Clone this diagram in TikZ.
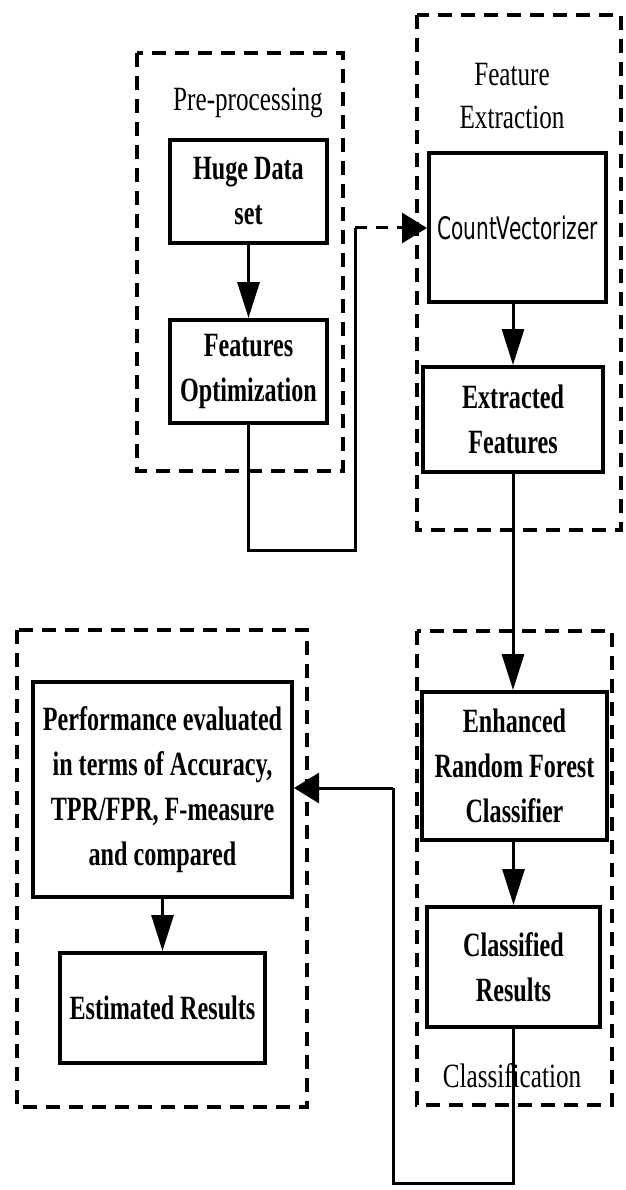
\documentclass[tikz,border=0pt]{standalone}
\usepackage{fontspec}
\setmainfont{Liberation Serif}
\newfontfamily\boxfont[FakeStretch=0.71]{Liberation Serif}
\newfontfamily\labelfont[FakeStretch=0.74]{Liberation Serif}
\newfontfamily\cvfont[FakeStretch=0.65]{DejaVu Sans}
\usetikzlibrary{arrows.meta}
\tikzset{
  dashbox/.style={draw, line width=4pt, dash pattern=on 14pt off 9pt},
  procbox/.style={draw, line width=4pt, inner sep=0pt, align=center,
    font=\boxfont\bfseries\fontsize{34}{45}\selectfont},
  grouplabel/.style={inner sep=0pt, align=center,
    font=\labelfont\fontsize{34}{43}\selectfont},
  conn/.style={line width=3pt, -{Triangle[length=36pt,width=22pt]}},
  hconn/.style={line width=3pt, -{Triangle[length=25pt,width=30pt]}},
  plainline/.style={line width=3pt},
}
\begin{document}
\begin{tikzpicture}[x=1pt,y=-1pt]
\useasboundingbox[fill=white] (0,0) rectangle (625,1190);
% dashed group frames
\draw[dashbox] (137,53) rectangle (343,471);
\draw[dashbox] (417,15) rectangle (621,530);
\draw[dashbox] (417,631) rectangle (612,1105);
\draw[dashbox] (17,630) rectangle (307,1107);
% group labels
\node[grouplabel] (lpre) at (248,103) {Pre-processing};
\node[grouplabel] (lfe) at (512,96.5) {Feature\\Extraction};
\node[grouplabel] (lcls) at (512,1076) {Classification};
% process boxes
\node[procbox, minimum width=157pt, minimum height=103pt] (huge) at (248.5,191.5) {Huge Data\\set};
\node[procbox, minimum width=157pt, minimum height=103pt] (opt) at (248.5,371.5) {Features\\Optimization};
\node[procbox, minimum width=177pt, minimum height=149pt, font=\cvfont\fontsize{31}{36}\selectfont] (cv) at (517.5,227.5) {CountVectorizer};
\node[procbox, minimum width=180pt, minimum height=105pt] (ext) at (513,419.5) {Extracted\\Features};
\node[procbox, minimum width=185pt, minimum height=148pt] (erf) at (514.5,766) {Enhanced\\Random Forest\\Classifier};
\node[procbox, minimum width=173pt, minimum height=120pt] (cls) at (513.5,967) {Classified\\Results};
\node[procbox, minimum width=259pt, minimum height=215pt] (perf) at (162.5,789.5) {Performance evaluated\\in terms of Accuracy,\\TPR/FPR, F-measure\\and compared};
\node[procbox, minimum width=205pt, minimum height=110pt] (est) at (162.5,1008) {Estimated Results};
% connector helper coordinates
\coordinate (p1) at (248.5,550);
\coordinate (p2) at (355,550);
\coordinate (p3) at (355,228);
\coordinate (q1) at (513.5,1183);
\coordinate (q2) at (393,1183);
\coordinate (q3) at (393,788);
% connectors
\draw[conn] (huge) -- (opt);
\draw[plainline] (opt.south) -- (p1) -- (p2) -- (p3);
\draw[hconn, dash pattern=on 12pt off 9pt] (p3) -- (p3 -| cv.west);
\draw[conn] (ext.north |- cv.south) -- (ext.north);
\draw[conn] (ext.south) -- (ext.south |- erf.north);
\draw[conn] (erf.south -| cls.north) -- (cls.north);
\draw[plainline] (cls.south) -- (q1) -- (q2) -- (q3);
\draw[hconn] (q3) -- (q3 -| perf.east);
\draw[conn] (perf.south) -- (est.north);
\end{tikzpicture}
\end{document}
